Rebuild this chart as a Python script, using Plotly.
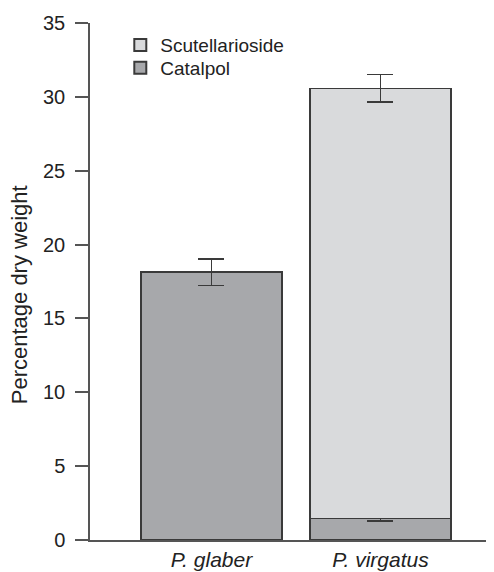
import plotly.graph_objects as go

species = ["P. glaber", "P. virgatus"]
catalpol = [18.14, 1.45]
catalpol_err = [0.9, 0.15]
scut_species = ["P. virgatus"]
scutellarioside = [29.13]
scut_err = [0.93]
yticks = [0, 5, 10, 15, 20, 25, 30, 35]
y_title = "Percentage dry weight"

xpos = {s: i for i, s in enumerate(species)}
font = "Liberation Sans, Arial, sans-serif"
edge = "#3a3a3a"

fig = go.Figure()
fig.add_trace(go.Bar(
    name="Catalpol", x=[xpos[s] for s in species], y=catalpol, width=0.834,
    marker=dict(color="#a7a8ab", line=dict(color=edge, width=1.5)),
    error_y=dict(type="data", array=catalpol_err, color=edge, thickness=1.5, width=13),
    legend="legend2",
))
fig.add_trace(go.Bar(
    name="Scutellarioside", x=[xpos[s] for s in scut_species], y=scutellarioside, width=0.834,
    marker=dict(color="#d9dadc", line=dict(color=edge, width=1.5)),
    error_y=dict(type="data", array=scut_err, color=edge, thickness=1.5, width=13),
    legend="legend",
))

leg_common = dict(xanchor="left", yanchor="top", font=dict(size=19, color="#222"),
                  bgcolor="rgba(0,0,0,0)", itemsizing="constant")

fig.add_annotation(text=y_title, textangle=-90, xref="paper", yref="paper",
                   x=-0.1725, y=0.474, xanchor="center", yanchor="middle",
                   showarrow=False, borderpad=0, font=dict(size=22, color="#222"))

fig.update_layout(
    barmode="stack",
    width=486, height=564,
    margin=dict(l=82, r=0, t=15, b=32),
    plot_bgcolor="white", paper_bgcolor="white",
    font=dict(family=font, size=20, color="#222"),
    showlegend=True,
    legend=dict(x=0.075, y=0.994, **leg_common),
    legend2=dict(x=0.075, y=0.9497, **leg_common),
    xaxis=dict(range=[-0.719, 1.672], tickvals=[0, 1],
               ticktext=["<i>%s</i>" % s for s in species],
               showline=True, linecolor="#555", linewidth=1.5, ticks="",
               showgrid=False, zeroline=False, tickfont=dict(size=21)),
    yaxis=dict(range=[0, 35], tickvals=yticks, showline=True, linecolor="#555", linewidth=1.5,
               ticks="outside", ticklen=13, tickwidth=1.5, tickcolor="#555",
               ticklabelstandoff=6,
               showgrid=False, zeroline=False, tickfont=dict(size=20)),
)
fig.write_html("out.html")
